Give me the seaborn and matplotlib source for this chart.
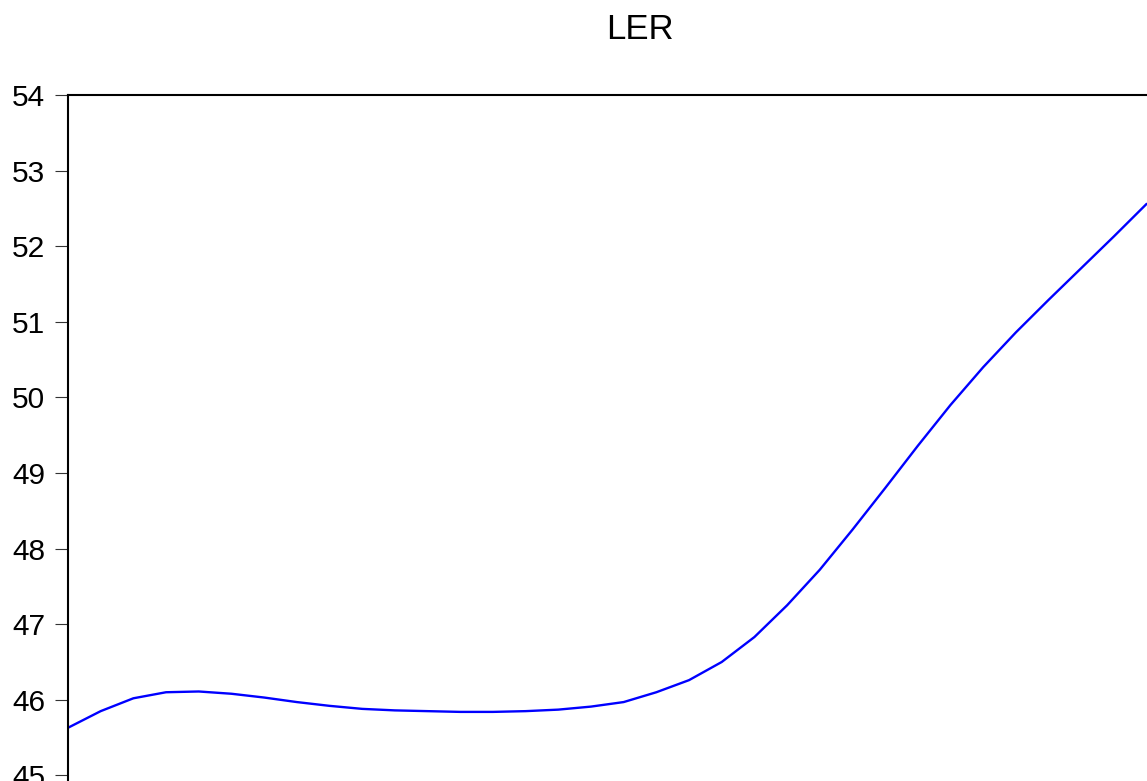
import numpy as np
import pandas as pd
import seaborn as sns
import matplotlib.pyplot as plt

# LER series (one value per period)
period = list(range(34))
ler = [45.63, 45.85, 46.02, 46.10, 46.11, 46.08, 46.03, 45.97, 45.92, 45.88,
       45.86, 45.85, 45.84, 45.84, 45.85, 45.87, 45.91, 45.97, 46.10, 46.26,
       46.50, 46.83, 47.25, 47.72, 48.25, 48.80, 49.36, 49.90, 50.40, 50.86,
       51.29, 51.71, 52.13, 52.56]
yticks = [44, 45, 46, 47, 48, 49, 50, 51, 52, 53, 54]

df = pd.DataFrame({"period": period, "LER": ler})

sns.set_style("white")
plt.rcParams["font.family"] = ["Liberation Sans", "DejaVu Sans"]
plt.rcParams["text.color"] = "black"
plt.rcParams["ytick.labelcolor"] = "black"

W, H = 1147, 781
fig = plt.figure(figsize=(W / 100, H / 100), dpi=100)
# the reference is a crop: right and bottom edges of the frame fall outside the picture
left, top, right, bottom = 68, 95, 1212, 95 + 10 * 75.6
ax = fig.add_axes([left / W, (H - bottom) / H, (right - left) / W, (bottom - top) / H])

sns.lineplot(data=df, x="period", y="LER", color="#0000ff", linewidth=1.7, ax=ax)

ax.set_xlim(0, 35)
ax.set_ylim(44, 54)
ax.set_yticks(yticks)
ax.set_yticklabels([str(t) for t in yticks])
ax.set_xticks([])
ax.set_xlabel("")
ax.set_ylabel("")
ax.tick_params(axis="y", direction="out", length=9.5, width=0.8, color="#333333",
               pad=7, labelsize=21.5, labelcolor="black", left=True)
for s in ax.spines.values():
    s.set_color("black")
    s.set_linewidth(1.5)

ax.set_title("LER", fontsize=25, pad=40, color="black")

fig.savefig("out.png", dpi=100)
